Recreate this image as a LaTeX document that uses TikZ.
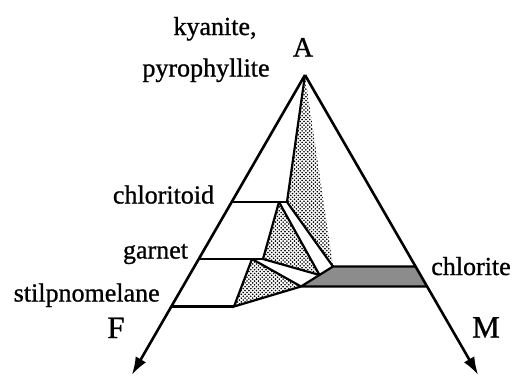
\documentclass[tikz,border=0pt]{standalone}
\usepackage{fontspec}
\setmainfont{Liberation Serif}[FakeBold=0.9]
\newfontfamily\labfont{Liberation Serif}[FakeBold=0.9]
\usetikzlibrary{arrows.meta,patterns}
\pgfdeclarepatternformonly{stip}{\pgfqpoint{-1pt}{-1pt}}{\pgfqpoint{2.9pt}{2.9pt}}{\pgfqpoint{3.8pt}{3.8pt}}{%
  \pgfpathcircle{\pgfqpoint{0pt}{0pt}}{0.9pt}%
  \pgfpathcircle{\pgfqpoint{1.9pt}{1.9pt}}{0.9pt}%
  \pgfusepath{fill}}
\begin{document}
\begin{tikzpicture}[x=1pt,y=-1pt,
  edge/.style={line width=2.6pt},
  inner/.style={line width=2.2pt},
  stippled/.style={pattern=stip},
  chlfill/.style={fill=black!45},
  lab/.style={font=\labfont\fontsize{26}{30}\selectfont, inner sep=0pt, anchor=base},
  biglab/.style={font=\labfont\fontsize{31}{36}\selectfont, inner sep=0pt, anchor=base},
  tip/.style={-{Latex[length=18pt,width=12pt]}}]
\useasboundingbox (0,0) rectangle (514,376);
% corners and compositions
\coordinate (A) at (305,75);
\coordinate (Ltip) at (131.8,375);
\coordinate (Rtip) at (478.2,375);
\coordinate (Lc) at (231.7,202);
\coordinate (Lg) at (198.8,259);
\coordinate (Ls) at (171.3,306.5);
\coordinate (Rt) at (415.6,266.5);
\coordinate (Rb) at (427.1,286.5);
\coordinate (Ctd1) at (279,202);
\coordinate (Ctd2) at (287,202);
\coordinate (Grt1) at (252,259);
\coordinate (Grt2) at (263,259);
\coordinate (Stp) at (234,306.5);
\coordinate (T) at (333,266.5);
\coordinate (P1) at (319.5,275);
\coordinate (B) at (301,286.5);
% fills
\fill[chlfill] (T) -- (Rt) -- (Rb) -- (B) -- cycle;
\fill[stippled] (A) -- (Ctd2) -- (T) -- cycle;
\fill[stippled] (Ctd1) -- (Grt2) -- (P1) -- cycle;
\fill[stippled] (Grt1) -- (Stp) -- (B) -- cycle;
% outlines
\draw[inner] (T) -- (Rt) (B) -- (Rb) (T) -- (B);
\draw[inner] (A) -- (Ctd2) -- (T);
\draw[inner] (Lc) -- (Ctd2);
\draw[inner] (Ctd1) -- (P1);
\draw[inner] (Ctd1) -- (Grt2) -- (P1);
\draw[inner] (Lg) -- (Grt2);
\draw[inner] (Grt1) -- (B);
\draw[inner] (Grt1) -- (Stp) -- (B);
\draw[inner] (Ls) -- (Stp);
\draw[edge,tip] (A) -- (Ltip);
\draw[edge,tip] (A) -- (Rtip);
% labels
\node[lab] (ky) at (215,35) {kyanite,};
\node[lab] (py) at (206,76.5) {pyrophyllite};
\node[lab,font=\labfont\fontsize{28}{32}\selectfont] (la) at (303,56.5) {A};
\node[lab] (ctd) at (163.5,203.5) {chloritoid};
\node[lab] (grt) at (155.5,258.5) {garnet};
\node[lab] (stp) at (86.7,301.5) {stilpnomelane};
\node[lab] (chl) at (471,275) {chlorite};
\node[biglab] (lf) at (116,338) {F};
\node[biglab] (lm) at (486,337.5) {M};
\end{tikzpicture}
\end{document}
